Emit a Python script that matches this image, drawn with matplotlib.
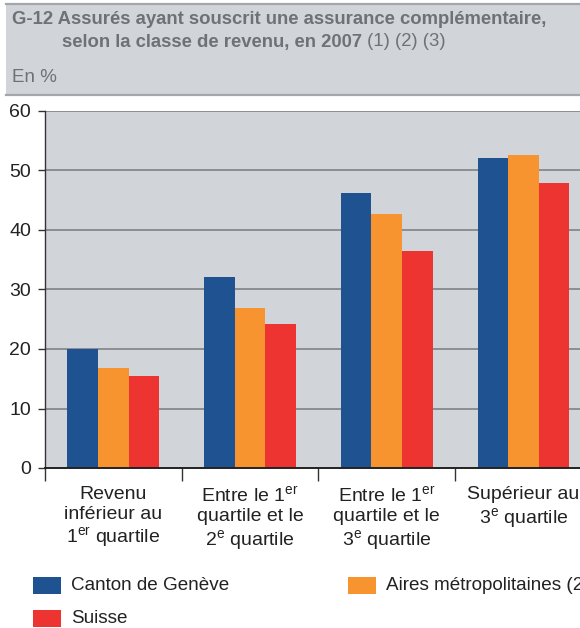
import matplotlib
matplotlib.use("Agg")
import matplotlib.pyplot as plt
from matplotlib.patches import Rectangle
from matplotlib.lines import Line2D
import numpy as np

plt.rcParams['font.family'] = ['Liberation Sans', 'DejaVu Sans']
plt.rcParams['mathtext.default'] = 'regular'

categories = [
    "Revenu\ninférieur au\n1$^{er}$ quartile",
    "Entre le 1$^{er}$\nquartile et le\n2$^{e}$ quartile",
    "Entre le 1$^{er}$\nquartile et le\n3$^{e}$ quartile",
    "Supérieur au\n3$^{e}$ quartile\n ",
]
series_names = ["Canton de Genève", "Aires métropolitaines (2)", "Suisse"]
geneve = [20.0, 32.1, 46.2, 52.1]
aires = [16.8, 26.9, 42.7, 52.6]
suisse = [15.5, 24.2, 36.5, 47.9]
series_values = [geneve, aires, suisse]
colors = ["#1f5291", "#f7942f", "#ee3431"]
yticks = [0, 10, 20, 30, 40, 50, 60]

W, H = 580, 628
fig = plt.figure(figsize=(W / 100, H / 100), dpi=100)
bg = "#d1d4d8"

# title box
fig.add_artist(Rectangle((6 / W, 1 - 95 / H), (W - 6) / W, 91 / H, transform=fig.transFigure,
                         facecolor=bg, edgecolor="none", zorder=0))
for yy in (4, 94.5):
    fig.add_artist(Line2D([6 / W, 1], [1 - yy / H, 1 - yy / H], transform=fig.transFigure,
                          color="#a3a6aa", lw=1.6))
tc = "#6e7176"
tfs = 13.3
fig.text(12 / W, 1 - 20 / H, "G-12 Assurés ayant souscrit une assurance complémentaire,",
         fontsize=tfs, fontweight="bold", color=tc, va="center", ha="left")
t2 = fig.text(62 / W, 1 - 42 / H, "selon la classe de revenu, en 2007",
              fontsize=tfs, fontweight="bold", color=tc, va="center", ha="left")
fig.text(12 / W, 1 - 77 / H, "En %", fontsize=13.5, color=tc, va="center", ha="left")

# axes
left, top, bottom = 45, 111, 468
cat_w = 136.7
ax = fig.add_axes([left / W, 1 - bottom / H, 4 * cat_w / W, (bottom - top) / H])
ax.set_facecolor(bg)
ax.set_xlim(0, 4)
ax.set_ylim(0, 60)
ax.set_yticks(yticks)
ax.set_yticklabels([str(v) for v in yticks], fontsize=14, color="#222222")
for v in yticks[1:]:
    ax.axhline(v, color="#8c8e91", lw=1.4, zorder=1)
for s in ("top", "right"):
    ax.spines[s].set_visible(False)
ax.spines["left"].set_color("#333333")
ax.spines["bottom"].set_color("#222222")
ax.spines["left"].set_linewidth(1.0)
ax.spines["bottom"].set_linewidth(1.4)
ax.tick_params(axis="y", length=5, width=1, color="#333333", pad=5)
ax.set_xticks([0, 1, 2, 3, 4])
ax.tick_params(axis="x", length=9, width=1, color="#333333", labelbottom=False)
ax.set_xticks([0.5, 1.5, 2.5, 3.5], minor=True)
ax.set_xticklabels(categories, minor=True, fontsize=14, color="#222222", linespacing=1.2)
ax.tick_params(axis="x", which="minor", length=0, pad=13)

x = np.arange(4) + 0.5
bw = 0.224
for i, (vals, col) in enumerate(zip(series_values, colors)):
    ax.bar(x + (i - 1) * bw, vals, width=bw, color=col, zorder=2, linewidth=0)

# title suffix in regular weight after bold part
fig.canvas.draw()
bb = t2.get_window_extent()
fig.text(bb.x1 / (W * fig.dpi / 100), 1 - 42 / H, " (1) (2) (3)", fontsize=tfs,
         color=tc, va="center", ha="left")

# legend
leg_pos = [(33, 585.5), (348, 585.5), (33, 618.5)]
for (lx, ly), name, col in zip(leg_pos, series_names, colors):
    fig.add_artist(Rectangle((lx / W, 1 - (ly + 8.5) / H), 28 / W, 17 / H,
                             transform=fig.transFigure, facecolor=col, edgecolor="none"))
    fig.text((lx + 38) / W, 1 - ly / H, name, fontsize=13.6, color="#222222",
             va="center", ha="left")

fig.savefig("out.png", dpi=100)
